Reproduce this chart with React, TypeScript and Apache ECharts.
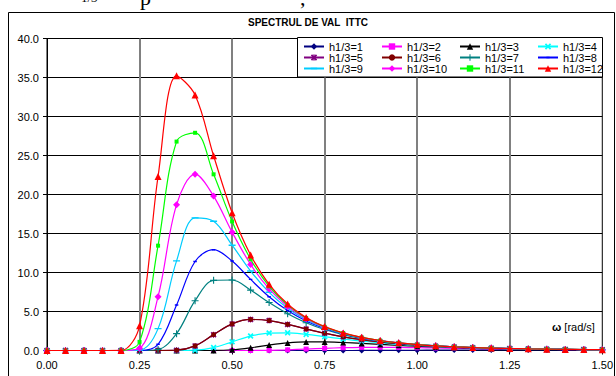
import React, { useEffect, useRef } from "react";
import * as echarts from "echarts";

const FONT = '"Liberation Sans", Arial, sans-serif';

const omega = [0, 0.05, 0.1, 0.15, 0.2, 0.25, 0.3, 0.35, 0.4, 0.45, 0.5, 0.55, 0.6, 0.65, 0.7, 0.75, 0.8, 0.85, 0.9, 0.95, 1.0, 1.05, 1.1, 1.15, 1.2, 1.25, 1.3, 1.35, 1.4, 1.45, 1.5];

const xTicks = [0, 0.25, 0.5, 0.75, 1.0, 1.25, 1.5];
const yTicks = [0, 5, 10, 15, 20, 25, 30, 35, 40];

const h1 = [0, 0, 0, 0, 0, 0, 0, 0, 0, 0, 0, 0, 0, 0, 0, 0.0002, 0.0012, 0.0045, 0.0115, 0.0221, 0.0348, 0.0473, 0.0579, 0.0655, 0.07, 0.0715, 0.0707, 0.0682, 0.0645, 0.0602, 0.0556];
const h2 = [0, 0, 0, 0, 0, 0, 0, 0, 0, 0, 0.0001, 0.0032, 0.0249, 0.0863, 0.1821, 0.2816, 0.3567, 0.3964, 0.4039, 0.3881, 0.3584, 0.3224, 0.2848, 0.2486, 0.2155, 0.1859, 0.16, 0.1376, 0.1185, 0.1021, 0.0881];
const h3 = [0, 0, 0, 0, 0, 0, 0, 0, 0.0001, 0.0093, 0.0991, 0.3551, 0.6975, 0.9701, 1.1004, 1.1028, 1.0239, 0.9068, 0.7801, 0.6595, 0.5521, 0.4599, 0.3825, 0.3183, 0.2653, 0.2219, 0.1861, 0.1568, 0.1326, 0.1125, 0.0959];
const h4 = [0, 0, 0, 0, 0, 0, 0, 0.0004, 0.0384, 0.3692, 1.1132, 1.8526, 2.2386, 2.2629, 2.0655, 1.7782, 1.481, 1.2115, 0.9822, 0.794, 0.6422, 0.5208, 0.4241, 0.347, 0.2854, 0.236, 0.1963, 0.1641, 0.1379, 0.1165, 0.0988];
const h5 = [0, 0, 0, 0, 0, 0, 0.0001, 0.0373, 0.5908, 2.0347, 3.4105, 3.98, 3.841, 3.3488, 2.7643, 2.2184, 1.7569, 1.3852, 1.0928, 0.8653, 0.6888, 0.5517, 0.4449, 0.3612, 0.2952, 0.2429, 0.2011, 0.1676, 0.1404, 0.1183, 0.1002];
const h6 = [0, 0, 0, 0, 0, 0, 0.0001, 0.0373, 0.5908, 2.0347, 3.4105, 3.98, 3.841, 3.3488, 2.7643, 2.2184, 1.7569, 1.3852, 1.0928, 0.8653, 0.6888, 0.5517, 0.4449, 0.3612, 0.2952, 0.2429, 0.2011, 0.1676, 0.1404, 0.1183, 0.1002];
const h7 = [0, 0, 0, 0, 0, 0.0001, 0.1269, 2.162, 6.384, 8.991, 9.041, 7.7456, 6.147, 4.711, 3.5629, 2.6895, 2.0387, 1.5567, 1.1991, 0.9325, 0.732, 0.58, 0.4638, 0.374, 0.304, 0.249, 0.2055, 0.1707, 0.1427, 0.12, 0.1014];
const h8 = [0, 0, 0, 0, 0, 0.0032, 0.7963, 5.8262, 11.414, 12.924, 11.47, 9.113, 6.8946, 5.1204, 3.7906, 2.819, 2.1141, 1.6017, 1.2266, 0.9497, 0.743, 0.5872, 0.4685, 0.3772, 0.3062, 0.2506, 0.2065, 0.1714, 0.1432, 0.1204, 0.1017];
const h9 = [0, 0, 0, 0, 0, 0.043, 2.8047, 11.496, 17.001, 16.573, 13.503, 10.187, 7.4589, 5.4215, 3.9551, 2.9113, 2.1674, 1.6333, 1.2459, 0.9616, 0.7506, 0.5921, 0.4718, 0.3794, 0.3077, 0.2516, 0.2073, 0.172, 0.1436, 0.1206, 0.1019];
const h10 = [0, 0, 0, 0, 0, 0.2784, 6.9026, 18.693, 22.605, 19.799, 15.175, 11.033, 7.8908, 5.6476, 4.0771, 2.9792, 2.2063, 1.6562, 1.2598, 0.9703, 0.7561, 0.5957, 0.4741, 0.381, 0.3088, 0.2524, 0.2078, 0.1723, 0.1439, 0.1208, 0.1021];
const h11 = [0, 0, 0, 0, 0.0003, 1.1087, 13.44, 26.785, 27.911, 22.585, 16.544, 11.703, 8.2265, 5.821, 4.1698, 3.0305, 2.2356, 1.6735, 1.2702, 0.9767, 0.7602, 0.5984, 0.4759, 0.3821, 0.3096, 0.2529, 0.2082, 0.1726, 0.1441, 0.121, 0.1022];
const h12 = [0, 0, 0, 0, 0.0033, 3.1712, 22.311, 35.213, 32.766, 24.965, 17.668, 12.24, 8.4912, 5.9564, 4.2417, 3.07, 2.2581, 1.6867, 1.2782, 0.9817, 0.7633, 0.6004, 0.4772, 0.383, 0.3102, 0.2533, 0.2085, 0.1728, 0.1442, 0.1211, 0.1023];

const seriesNames = ["h1/3=1", "h1/3=2", "h1/3=3", "h1/3=4", "h1/3=5", "h1/3=6", "h1/3=7", "h1/3=8", "h1/3=9", "h1/3=10", "h1/3=11", "h1/3=12"];
const seriesValues = [h1, h2, h3, h4, h5, h6, h7, h8, h9, h10, h11, h12];
const seriesColors = ["#000080", "#FF00FF", "#000000", "#00FFFF", "#800080", "#800000", "#008080", "#0000FF", "#00CCFF", "#FF00FF", "#00FF00", "#FF0000"];

const X_PATH = "path://M0,2L2,0L5,3L8,0L10,2L7,5L10,8L8,10L5,7L2,10L0,8L3,5Z";
const STAR_PATH = "path://M0,2L2,0L5,3L8,0L10,2L7,5L10,8L8,10L5,7L2,10L0,8L3,5Z M4.2,0H5.8V10H4.2Z";
const PLUS_PATH = "path://M4.2,0H5.8V4.2H10V5.8H5.8V10H4.2V5.8H0V4.2H4.2Z";
const SHORT_DASH = "path://M0,0h0.1v0.1h-0.1Z M9.9,9.9h0.1v0.1h-0.1Z M2.5,4H7.5V6H2.5Z";
const LONG_DASH = "path://M0,0h0.1v0.1h-0.1Z M9.9,9.9h0.1v0.1h-0.1Z M0,4H10V6H0Z";

const seriesSymbols = ["diamond", "rect", "triangle", X_PATH, STAR_PATH, "circle", PLUS_PATH, SHORT_DASH, LONG_DASH, "diamond", "rect", "triangle"];
const symbolSizes = [6, 5, 6, 6, 6, 5, 7, 7, 7, 7, 4, 7];

const legendColumns = [[0, 4, 8], [1, 5, 9], [2, 6, 10], [3, 7, 11]];
const legendLefts = [303, 381, 459, 537];

export default function App() {
  const ref = useRef<HTMLDivElement>(null);

  useEffect(() => {
    if (!ref.current) return;
    const chart = echarts.init(ref.current, null, { renderer: "svg" });

    const series = seriesNames.map((name, k) => ({
      name,
      type: "line",
      data: omega.map((x, i) => [x, seriesValues[k][i]]),
      smooth: 0.35,
      showSymbol: true,
      showAllSymbol: true,
      symbol: seriesSymbols[k],
      symbolSize: symbolSizes[k],
      lineStyle: { color: seriesColors[k], width: 1.2 },
      itemStyle: { color: seriesColors[k] },
      emphasis: { disabled: true },
      z: 2 + k * 0.01,
    }));

    const option: any = {
      animation: false,
      backgroundColor: "#ffffff",
      title: {
        text: "SPECTRUL DE VAL  ITTC",
        left: "center",
        top: 17,
        padding: 0,
        textStyle: { fontFamily: FONT, fontSize: 10, fontWeight: "bold", color: "#000" },
      },
      grid: {
        left: 47,
        right: 12,
        top: 38.5,
        bottom: 25.5,
        show: true,
        borderColor: "#000",
        borderWidth: 1,
        backgroundColor: "#fff",
      },
      xAxis: {
        type: "value",
        min: xTicks[0],
        max: xTicks[xTicks.length - 1],
        interval: xTicks[1] - xTicks[0],
        axisLine: { show: true, lineStyle: { color: "#000", width: 1 } },
        axisTick: { show: true, length: 4, inside: false, lineStyle: { color: "#000" } },
        axisLabel: {
          formatter: (v: number) => v.toFixed(2),
          fontFamily: FONT,
          fontSize: 11,
          color: "#000",
          margin: 9,
        },
        splitLine: { show: true, showMinLine: false, showMaxLine: false, lineStyle: { color: "#808080", width: 2 } },
      },
      yAxis: {
        type: "value",
        min: yTicks[0],
        max: yTicks[yTicks.length - 1],
        interval: yTicks[1] - yTicks[0],
        axisLine: { show: true, lineStyle: { color: "#000", width: 1 } },
        axisTick: { show: true, length: 4, inside: false, lineStyle: { color: "#000" } },
        axisLabel: {
          formatter: (v: number) => v.toFixed(1),
          fontFamily: FONT,
          fontSize: 11,
          color: "#000",
          margin: 8,
        },
        splitLine: { show: true, showMinLine: false, lineStyle: { color: "#000", width: 1 } },
      },
      legend: legendColumns.map((col, i) => ({
        orient: "vertical",
        left: legendLefts[i],
        top: 41,
        padding: 0,
        itemWidth: 20,
        itemHeight: 8,
        itemGap: 0,
        selectedMode: false,
        data: col.map((k) => seriesNames[k]),
        textStyle: { fontFamily: FONT, fontSize: 11, color: "#000", lineHeight: 10.5 },
        z: 6,
      })),
      graphic: [
        {
          type: "rect",
          shape: { x: 8.5, y: 12.5, width: 606, height: 400 },
          style: { fill: "none", stroke: "#000", lineWidth: 1 },
          silent: true,
          z: 1,
        },
        {
          type: "rect",
          shape: { x: 297.5, y: 37.5, width: 305, height: 39.5 },
          style: { fill: "#fff", stroke: "#000", lineWidth: 1 },
          silent: true,
          z: 5,
        },
        {
          type: "text",
          x: 552,
          y: 327,
          style: {
            text: "{b|ω} [rad/s]",
            fontFamily: FONT,
            fontSize: 11,
            fill: "#000",
            verticalAlign: "middle",
            rich: { b: { fontFamily: FONT, fontSize: 11, fontWeight: "bold", fill: "#000" } },
          },
          silent: true,
          z: 6,
        },
        {
          type: "text",
          x: 81,
          y: -2.5,
          style: { text: "1/3", fontFamily: '"Liberation Serif", serif', fontSize: 13, fill: "#000", verticalAlign: "middle" },
          silent: true,
          z: 6,
        },
        {
          type: "text",
          x: 140,
          y: -2.7,
          style: { text: "p", fontFamily: '"Liberation Serif", serif', fontSize: 22, fill: "#000", verticalAlign: "middle" },
          silent: true,
          z: 6,
        },
        {
          type: "text",
          x: 300,
          y: -3,
          style: { text: ",", fontFamily: '"Liberation Serif", serif', fontSize: 22, fill: "#000", verticalAlign: "middle" },
          silent: true,
          z: 6,
        },
      ],
      series,
    };

    chart.setOption(option);
    return () => chart.dispose();
  }, []);

  return (
    <div
      ref={ref}
      style={{ position: "fixed", left: 0, top: 0, width: 616, height: 376, background: "#fff" }}
    />
  );
}
